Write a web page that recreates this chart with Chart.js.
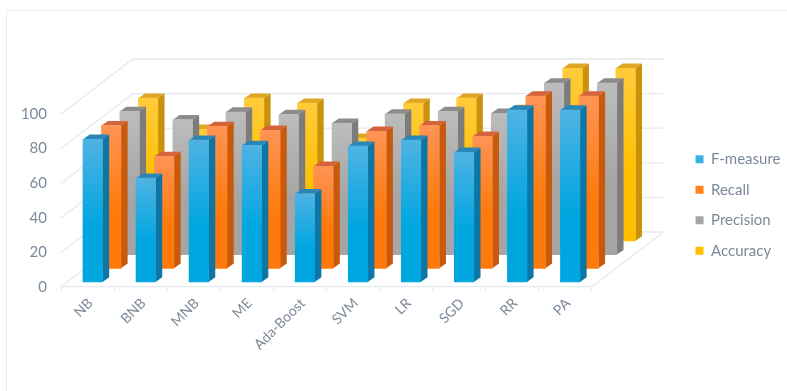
<!DOCTYPE html>
<html>
<head>
<meta charset="utf-8">
<style>
  html, body { margin: 0; padding: 0; background: #fff; }
  #wrap { position: relative; width: 787px; height: 391px; overflow: hidden; }
  #frame { position: absolute; left: 6px; top: 10px; width: 800px; height: 400px; border-left: 1px solid #e9edf2; border-top: 1px solid #e9edf2; }
  canvas { position: absolute; left: 0; top: 0; filter: blur(0.4px); }
</style>
<script src="https://cdn.jsdelivr.net/npm/chart.js@4"></script>
</head>
<body>
<div id="wrap">
  <div id="frame"></div>
  <canvas id="chart" width="787" height="391"></canvas>
</div>
<script>
const categories = ["NB", "BNB", "MNB", "ME", "Ada-Boost", "SVM", "LR", "SGD", "RR", "PA"];
const fMeasure  = [82.5, 60, 82, 79, 51, 78.5, 82, 75, 99.4, 99.4];
const recall    = [82.5, 64.7, 82, 79.8, 59, 79.2, 82.5, 76.3, 99.6, 99.6];
const precision = [82.8, 78, 82.4, 81, 75.9, 81.3, 82.8, 81.7, 99.2, 99.2];
const accuracy  = [82.5, 64.5, 82.5, 79.6, 59.4, 79.6, 82.5, 76, 99.8, 99.8];

const gridColor = "#e6e9ee";
const textColor = "#7c8999";

// light = top of front face, solid = lower part, side / lid = the other two faces
const faces = [
  { solid: "#00a6e0", light: "#4fb3e4", side: "#0d76a4", lid: "#2a86b4" },
  { solid: "#ff7a0a", light: "#ff9455", side: "#c95a0c", lid: "#d5643a" },
  { solid: "#a5a5a5", light: "#bcbcbc", side: "#7c7c7c", lid: "#8c8c8c" },
  { solid: "#ffc000", light: "#ffcb3a", side: "#c9920a", lid: "#dfa524" }
];

// depth of the box and shift between rows
const wall = { dx: 72, dy: 55 };
const lid = { dx: 6.7, dy: 4.7 };
const row = { x0: 5.2, y0: 5, dx: 18.45, dy: 13.7 };

function poly(ctx, pts, color) {
  ctx.fillStyle = color;
  ctx.beginPath();
  pts.forEach((p, i) => i ? ctx.lineTo(p[0], p[1]) : ctx.moveTo(p[0], p[1]));
  ctx.closePath();
  ctx.fill();
}

const box3d = {
  id: "box3d",
  afterLayout(chart) {
    // legend sits apart from the plot, on the far right
    const lg = chart.legend;
    lg.left += 88.5; lg.right += 88.5;
    lg.top -= 47.5; lg.bottom -= 47.5;
  },
  afterDatasetsUpdate(chart) {
    chart.data.datasets.forEach((ds, k) => {
      chart.getDatasetMeta(k).data.forEach(el => {
        el.x += row.x0 + row.dx * k;
        el.y -= row.y0 + row.dy * k;
        el.base -= row.y0 + row.dy * k;
      });
    });
  },
  beforeDatasetsDraw(chart) {
    const { ctx, scales: { x, y } } = chart;
    const l = x.left, r = x.right;
    ctx.save();
    ctx.strokeStyle = gridColor;
    ctx.lineWidth = 1.3;
    ctx.beginPath();
    y.ticks.forEach(t => {
      const py = y.getPixelForValue(t.value);
      ctx.moveTo(l, py);
      ctx.lineTo(l + wall.dx, py - wall.dy);
      ctx.lineTo(r + wall.dx, py - wall.dy);
    });
    const floor = y.getPixelForValue(0);
    ctx.moveTo(r, floor);
    ctx.lineTo(r + wall.dx, floor - wall.dy);
    ctx.stroke();
    ctx.restore();
  },
  beforeDatasetDraw(chart, args) {
    const { ctx } = chart;
    const f = faces[args.index];
    args.meta.data.forEach(el => {
      const hw = el.width / 2;
      const a = el.x - hw, b = el.x + hw;
      poly(ctx, [[b, el.y], [b + lid.dx, el.y - lid.dy], [b + lid.dx, el.base - lid.dy], [b, el.base]], f.side);
      poly(ctx, [[a, el.y], [a + lid.dx, el.y - lid.dy], [b + lid.dx, el.y - lid.dy], [b, el.y]], f.lid);
    });
  }
};

function frontFill(k) {
  return c => {
    const f = faces[k];
    if (!c.parsed) return f.solid;
    const ys = c.chart.scales.y;
    const shift = row.y0 + row.dy * k;
    const top = ys.getPixelForValue(c.parsed.y) - shift;
    const bottom = ys.getPixelForValue(0) - shift;
    if (!Number.isFinite(top) || !Number.isFinite(bottom)) return f.solid;
    const g = c.chart.ctx.createLinearGradient(0, top, 0, bottom);
    g.addColorStop(0, f.light);
    g.addColorStop(0.6, f.solid);
    g.addColorStop(1, f.solid);
    return g;
  };
}

new Chart(document.getElementById("chart"), {
  type: "bar",
  plugins: [box3d],
  data: {
    labels: categories,
    datasets: [
      { label: "F-measure", data: fMeasure, backgroundColor: frontFill(0), clip: false },
      { label: "Recall", data: recall, backgroundColor: frontFill(1), clip: false },
      { label: "Precision", data: precision, backgroundColor: frontFill(2), clip: false },
      { label: "Accuracy", data: accuracy, backgroundColor: frontFill(3), clip: false }
    ]
  },
  options: {
    responsive: false,
    animation: false,
    grouped: false,
    barThickness: 19.5,
    layout: { padding: { top: 114, right: 85, left: 0, bottom: 0 } },
    plugins: {
      tooltip: { enabled: false },
      legend: {
        position: "right",
        labels: {
          boxWidth: 8,
          boxHeight: 8,
          padding: 15.5,
          color: textColor,
          font: { family: "Lato", size: 15 }
        }
      }
    },
    scales: {
      x: {
        afterFit(s) { s.height = 104; },
        grid: { drawOnChartArea: false, tickLength: 4, color: gridColor },
        border: { color: gridColor, width: 1.3 },
        ticks: { minRotation: 45, maxRotation: 45, padding: 4, labelOffset: 3, color: textColor, font: { family: "Lato", size: 14 } }
      },
      y: {
        min: 0,
        max: 100,
        afterFit(s) { s.width = 61; },
        grid: { display: false, drawTicks: false },
        border: { display: false },
        ticks: { stepSize: 20, padding: 14, color: textColor, font: { family: "Lato", size: 15 } }
      }
    }
  }
});
</script>
</body>
</html>
